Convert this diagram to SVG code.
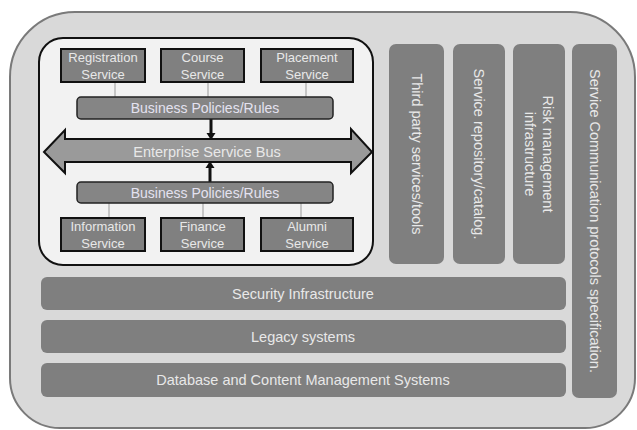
<svg xmlns="http://www.w3.org/2000/svg" width="637" height="430" viewBox="0 0 637 430">
<defs>
<style>
.outer{fill:#d9d9d9;stroke:#7a7a7a;stroke-width:2}
.inner{fill:#f2f2f2;stroke:#111;stroke-width:2}
.svc{fill:#808080;stroke:#111;stroke-width:2}
.bpr{fill:#858585;stroke:#222;stroke-width:1.5}
.bar{fill:#7f7f7f}
.esb{fill:#9a9a9a;stroke:#111;stroke-width:2;stroke-linejoin:miter}
.t{font-family:"Liberation Sans",Arial,sans-serif;fill:#e8e8e8;text-anchor:middle}
.ts{font-size:13px}
.tb{font-size:14px;fill:#e4e2f0}
.tl{font-size:14.5px}
.conn{stroke:#9a9a9a;stroke-width:1;fill:none}
.arr{stroke:#111;stroke-width:3;fill:none}
.head{fill:#111}
</style>
</defs>
<path class="outer" d="M75,12 H570 A65,65 0 0 1 635,77 V378 A50,50 0 0 1 585,428 H60 A50,50 0 0 1 10,378 V77 A65,65 0 0 1 75,12 Z"/>
<g id="core">
<rect class="inner" x="39" y="38" width="334" height="227" rx="24" ry="24"/>
</g>
<g id="connectors">
<line class="conn" x1="115" y1="82" x2="115" y2="97"/>
<line class="conn" x1="208" y1="82" x2="208" y2="97"/>
<line class="conn" x1="306" y1="82" x2="306" y2="97"/>
<line class="conn" x1="109" y1="203" x2="109" y2="218"/>
<line class="conn" x1="203" y1="203" x2="203" y2="218"/>
<line class="conn" x1="301" y1="203" x2="301" y2="218"/>
<line class="arr" x1="211" y1="119" x2="211" y2="134"/>
<polygon class="head" points="206.5,133 215.5,133 211,140"/>
<line class="arr" x1="210" y1="182" x2="210" y2="167"/>
<polygon class="head" points="205.5,168 214.5,168 210,161"/>
</g>
<g id="registration"><rect class="svc" x="61" y="49" width="84" height="33"/><text class="t ts" x="103" y="62">Registration</text><text class="t ts" x="103" y="79">Service</text></g>
<g id="course"><rect class="svc" x="161" y="49" width="83" height="33"/><text class="t ts" x="202.5" y="62">Course</text><text class="t ts" x="202.5" y="79">Service</text></g>
<g id="placement"><rect class="svc" x="261" y="49" width="92" height="33"/><text class="t ts" x="307" y="62">Placement</text><text class="t ts" x="307" y="79">Service</text></g>
<g id="bpr-top"><rect class="bpr" x="77" y="97" width="256" height="22" rx="4"/><text class="t tb" x="205" y="113">Business Policies/Rules</text></g>
<g id="esb"><polygon class="esb" points="44,152 65,130 65,139 351,139 351,129 372,152 351,173 351,162 65,162 65,173"/><text class="t tl" x="207" y="157">Enterprise Service Bus</text></g>
<g id="bpr-bottom"><rect class="bpr" x="77" y="182" width="256" height="21" rx="4"/><text class="t tb" x="205" y="197.5">Business Policies/Rules</text></g>
<g id="information"><rect class="svc" x="61" y="218" width="84" height="33"/><text class="t ts" x="103" y="231">Information</text><text class="t ts" x="103" y="248">Service</text></g>
<g id="finance"><rect class="svc" x="161" y="218" width="83" height="33"/><text class="t ts" x="202.5" y="231">Finance</text><text class="t ts" x="202.5" y="248">Service</text></g>
<g id="alumni"><rect class="svc" x="261" y="218" width="92" height="33"/><text class="t ts" x="307" y="231">Alumni</text><text class="t ts" x="307" y="248">Service</text></g>
<g id="third-party"><rect class="bar" x="389" y="44" width="55" height="220" rx="7"/><text class="t tl" transform="translate(416.5,154) rotate(90)" y="5">Third party services/tools</text></g>
<g id="repository"><rect class="bar" x="453" y="44" width="52" height="220" rx="7"/><text class="t tl" transform="translate(479,154) rotate(90)" y="5">Service repository/catalog.</text></g>
<g id="risk"><rect class="bar" x="513" y="44" width="52" height="220" rx="7"/><text class="t tl" transform="translate(539,154) rotate(90)"><tspan x="0" y="-4">Risk management</tspan><tspan x="0" y="14">infrastructure</tspan></text></g>
<g id="comm"><rect class="bar" x="572" y="44" width="45" height="354" rx="7"/><text class="t tl" transform="translate(594.5,221) rotate(90)" y="5">Service Communication protocols specification.</text></g>
<g id="security"><rect class="bar" x="41" y="277" width="525" height="33" rx="6"/><text class="t tl" x="303" y="298.5">Security Infrastructure</text></g>
<g id="legacy"><rect class="bar" x="41" y="320" width="525" height="33" rx="6"/><text class="t tl" x="303" y="341.5">Legacy systems</text></g>
<g id="database"><rect class="bar" x="41" y="363" width="525" height="34" rx="6"/><text class="t tl" x="303" y="385">Database and Content Management Systems</text></g>
</svg>
